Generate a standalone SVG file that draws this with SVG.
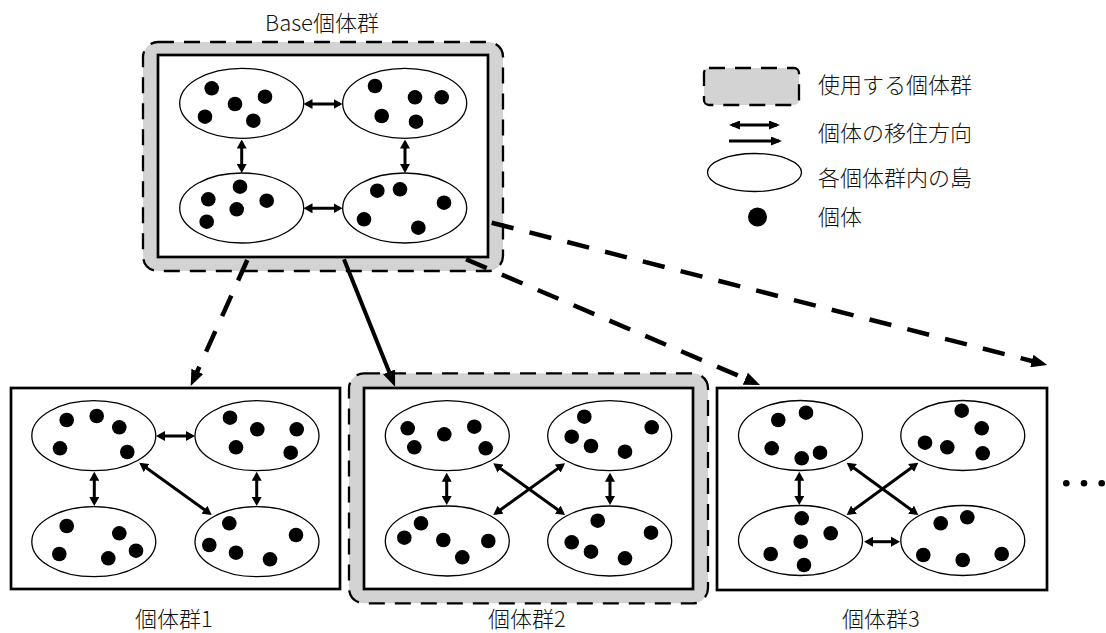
<svg xmlns="http://www.w3.org/2000/svg" width="1106" height="633" viewBox="0 0 1106 633">
<defs>
<style>
.lbl{font-family:"Noto Sans CJK JP","Noto Sans",sans-serif;font-size:22px;font-weight:300;fill:#111}
.isl{fill:#fff;stroke:#000;stroke-width:1.3}
.dot{fill:#000}
.box{fill:#fff;stroke:#000;stroke-width:2.7}
.grp{fill:#d3d3d3;stroke:#000;stroke-width:2.3;stroke-dasharray:16 10}
.mig{stroke:#000;stroke-width:3;fill:none;marker-start:url(#ah);marker-end:url(#ah)}
.con{stroke:#000;stroke-width:4.5;fill:none;marker-end:url(#bh)}
.dash{stroke-dasharray:22.5 16.5}
</style>
<marker id="ah" markerUnits="userSpaceOnUse" viewBox="0 0 9 10" markerWidth="9" markerHeight="10" refX="6" refY="5" orient="auto-start-reverse"><path d="M0,0 L9,5 L0,10 z" fill="#000"/></marker>
<marker id="lh" markerUnits="userSpaceOnUse" viewBox="0 0 11 9" markerWidth="11" markerHeight="9" refX="8" refY="4.5" orient="auto-start-reverse"><path d="M0,0 L11,4.5 L0,9 z" fill="#000"/></marker>
<marker id="bh" markerUnits="userSpaceOnUse" viewBox="0 0 16 13" markerWidth="16" markerHeight="13" refX="10" refY="6.5" orient="auto"><path d="M0,0 L16,6.5 L0,13 z" fill="#000"/></marker>
</defs>
<rect width="1106" height="633" fill="#fff"/>

<g id="base-population">
<text class="lbl" x="322" y="31" text-anchor="middle">Base個体群</text>
<rect class="grp" x="143" y="42" width="360" height="229" rx="15"/>
<rect class="box" x="158" y="55" width="330" height="202"/>
<ellipse class="isl" cx="241.7" cy="103.3" rx="62" ry="35"/>
<ellipse class="isl" cx="404.7" cy="103.3" rx="62" ry="35"/>
<ellipse class="isl" cx="241.7" cy="208" rx="62" ry="35"/>
<ellipse class="isl" cx="404.7" cy="208" rx="62" ry="35"/>
<g class="dot">
<circle cx="211.7" cy="88.3" r="7.3"/><circle cx="265" cy="96.7" r="7.3"/><circle cx="235" cy="104" r="7.3"/><circle cx="205" cy="116.7" r="7.3"/><circle cx="253.3" cy="120.7" r="7.3"/>
<circle cx="375" cy="86" r="7.3"/><circle cx="415" cy="97.3" r="7.3"/><circle cx="441.7" cy="97.3" r="7.3"/><circle cx="381.7" cy="116" r="7.3"/><circle cx="416" cy="121.7" r="7.3"/>
<circle cx="240" cy="186.7" r="7.3"/><circle cx="208.3" cy="199.3" r="7.3"/><circle cx="266.7" cy="200.7" r="7.3"/><circle cx="236.7" cy="209.3" r="7.3"/><circle cx="206.7" cy="221.7" r="7.3"/>
<circle cx="377.3" cy="190.7" r="7.3"/><circle cx="400" cy="189.3" r="7.3"/><circle cx="444" cy="202.7" r="7.3"/><circle cx="364" cy="219.3" r="7.3"/><circle cx="418.3" cy="227.7" r="7.3"/>
</g>
<line class="mig" x1="306.5" y1="104" x2="339.5" y2="104"/>
<line class="mig" x1="306.5" y1="208.3" x2="339.5" y2="208.3"/>
<line class="mig" x1="241.7" y1="142.5" x2="241.7" y2="170"/>
<line class="mig" x1="405" y1="142.5" x2="405" y2="170"/>
</g>

<g id="population-1">
<rect class="box" x="11" y="388" width="329" height="201"/>
<ellipse class="isl" cx="93.8" cy="435.7" rx="62" ry="35"/>
<ellipse class="isl" cx="257" cy="435.7" rx="62" ry="35"/>
<ellipse class="isl" cx="93.8" cy="541.7" rx="62" ry="35"/>
<ellipse class="isl" cx="257" cy="541.7" rx="62" ry="35"/>
<g class="dot">
<circle cx="66.7" cy="420" r="7.3"/><circle cx="96.7" cy="416" r="7.3"/><circle cx="119.3" cy="427.3" r="7.3"/><circle cx="60" cy="448.3" r="7.3"/><circle cx="127.3" cy="452" r="7.3"/>
<circle cx="230" cy="417.7" r="7.3"/><circle cx="257.3" cy="429.3" r="7.3"/><circle cx="296.7" cy="429.3" r="7.3"/><circle cx="236" cy="447.3" r="7.3"/><circle cx="290.7" cy="452.7" r="7.3"/>
<circle cx="66.7" cy="526" r="7.3"/><circle cx="119.3" cy="533.3" r="7.3"/><circle cx="59.3" cy="554" r="7.3"/><circle cx="108.3" cy="558.3" r="7.3"/><circle cx="136" cy="550.7" r="7.3"/>
<circle cx="229.3" cy="523.3" r="7.3"/><circle cx="296" cy="535" r="7.3"/><circle cx="209.3" cy="545" r="7.3"/><circle cx="236" cy="552.7" r="7.3"/><circle cx="270" cy="559.3" r="7.3"/>
</g>
<line class="mig" x1="159" y1="436" x2="192" y2="436"/>
<line class="mig" x1="94.3" y1="474.7" x2="94.3" y2="503"/>
<line class="mig" x1="256.7" y1="474.7" x2="256.7" y2="503"/>
<line class="mig" x1="141.7" y1="464.5" x2="209.3" y2="513.2"/>
<text class="lbl" x="174" y="627" text-anchor="middle">個体群1</text>
</g>

<g id="population-2">
<rect class="grp" x="349" y="373.3" width="359" height="230" rx="15"/>
<rect class="box" x="364" y="388" width="329" height="201"/>
<ellipse class="isl" cx="447.3" cy="435.7" rx="62" ry="35"/>
<ellipse class="isl" cx="609.7" cy="435.7" rx="62" ry="35"/>
<ellipse class="isl" cx="447.3" cy="541" rx="62" ry="35"/>
<ellipse class="isl" cx="609.7" cy="541" rx="62" ry="35"/>
<g class="dot">
<circle cx="407.7" cy="428.3" r="7.3"/><circle cx="444.3" cy="434.3" r="7.3"/><circle cx="474.3" cy="426.7" r="7.3"/><circle cx="414.3" cy="447.3" r="7.3"/><circle cx="485.7" cy="448.3" r="7.3"/>
<circle cx="584.3" cy="416.7" r="7.3"/><circle cx="651.7" cy="427.3" r="7.3"/><circle cx="571.7" cy="436.7" r="7.3"/><circle cx="591" cy="446" r="7.3"/><circle cx="625" cy="451.7" r="7.3"/>
<circle cx="421" cy="523.3" r="7.3"/><circle cx="404.3" cy="537.7" r="7.3"/><circle cx="443.3" cy="540" r="7.3"/><circle cx="488.3" cy="541" r="7.3"/><circle cx="462.3" cy="557.3" r="7.3"/>
<circle cx="597.7" cy="520.7" r="7.3"/><circle cx="651" cy="532.7" r="7.3"/><circle cx="571.7" cy="542.3" r="7.3"/><circle cx="591" cy="551.7" r="7.3"/><circle cx="625" cy="558.3" r="7.3"/>
</g>
<line class="mig" x1="446.7" y1="475.7" x2="446.7" y2="502"/>
<line class="mig" x1="610" y1="475.7" x2="610" y2="502"/>
<line class="mig" x1="495.7" y1="465.1" x2="562.6" y2="513.2"/>
<line class="mig" x1="562.6" y1="465.1" x2="495.7" y2="513.2"/>
<text class="lbl" x="527" y="627" text-anchor="middle">個体群2</text>
</g>

<g id="population-3">
<rect class="box" x="717" y="388" width="330" height="202"/>
<ellipse class="isl" cx="800.5" cy="435.5" rx="62" ry="35"/>
<ellipse class="isl" cx="962.8" cy="435.5" rx="62" ry="35"/>
<ellipse class="isl" cx="800.5" cy="540.5" rx="62" ry="35"/>
<ellipse class="isl" cx="962.8" cy="540.5" rx="62" ry="35"/>
<g class="dot">
<circle cx="778.3" cy="420" r="7.3"/><circle cx="806" cy="412.7" r="7.3"/><circle cx="771.7" cy="448.3" r="7.3"/><circle cx="820" cy="452.7" r="7.3"/><circle cx="801.7" cy="458.3" r="7.3"/>
<circle cx="961.7" cy="410.7" r="7.3"/><circle cx="981.7" cy="428.3" r="7.3"/><circle cx="925" cy="442.7" r="7.3"/><circle cx="947.3" cy="447.3" r="7.3"/><circle cx="982.7" cy="453.3" r="7.3"/>
<circle cx="801.7" cy="518.3" r="7.3"/><circle cx="830.7" cy="533.3" r="7.3"/><circle cx="800.7" cy="541.7" r="7.3"/><circle cx="770.7" cy="554" r="7.3"/><circle cx="804" cy="565" r="7.3"/>
<circle cx="940.7" cy="523.3" r="7.3"/><circle cx="967.3" cy="517.3" r="7.3"/><circle cx="923.3" cy="555" r="7.3"/><circle cx="962.7" cy="560" r="7.3"/><circle cx="1001.7" cy="554" r="7.3"/>
</g>
<line class="mig" x1="799.3" y1="474.7" x2="799.3" y2="502"/>
<line class="mig" x1="867" y1="541.7" x2="897" y2="541.7"/>
<line class="mig" x1="849.1" y1="464.5" x2="915.9" y2="513.2"/>
<line class="mig" x1="915.9" y1="464.5" x2="849.1" y2="513.2"/>
<text class="lbl" x="881" y="627" text-anchor="middle">個体群3</text>
</g>

<g id="more">
<circle cx="1066.3" cy="483.3" r="3.3"/>
<circle cx="1084" cy="483.3" r="3.3"/>
<circle cx="1101.7" cy="483.3" r="3.3"/>
</g>

<g id="connectors">
<line class="con dash" x1="247.3" y1="260" x2="193.2" y2="380.5"/>
<line class="con" style="stroke-width:4" x1="344" y1="259.3" x2="392.8" y2="381.1"/>
<line class="con dash" x1="466" y1="259.3" x2="754.5" y2="382.6"/>
<line class="con dash" x1="491.7" y1="222.7" x2="1041.5" y2="363.5"/>
</g>

<g id="legend">
<rect class="grp" x="704" y="68" width="95" height="37" rx="5"/>
<text class="lbl" x="818" y="93">使用する個体群</text>
<line x1="732" y1="125" x2="777" y2="125" stroke="#000" stroke-width="3.2" marker-start="url(#lh)" marker-end="url(#lh)"/>
<line x1="729" y1="141" x2="779" y2="141" stroke="#000" stroke-width="3.2" marker-end="url(#lh)"/>
<text class="lbl" x="818" y="141">個体の移住方向</text>
<ellipse class="isl" cx="754.5" cy="172.5" rx="47" ry="19"/>
<text class="lbl" x="818" y="186">各個体群内の島</text>
<circle cx="757.5" cy="217" r="9.5"/>
<text class="lbl" x="818" y="225">個体</text>
</g>
</svg>
